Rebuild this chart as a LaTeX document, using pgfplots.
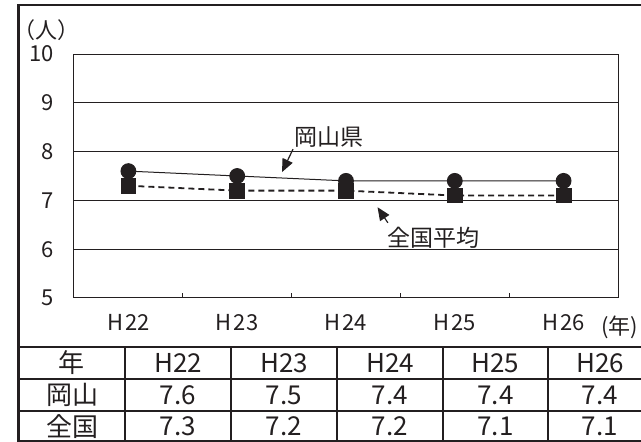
\documentclass[border=0pt]{standalone}
\usepackage{fontspec}
\setmainfont{Noto Sans CJK JP}
\usepackage{pgfplots}
\pgfplotsset{compat=1.18}
\usetikzlibrary{arrows.meta}
\definecolor{ink}{HTML}{231F20}
\begin{document}
\begin{tikzpicture}[x=1pt,y=1pt]
\path[use as bounding box] (0,0) rectangle (641,442);
\begin{axis}[
  at={(74pt,144pt)}, anchor=south west, scale only axis,
  width=544pt, height=244pt,
  xmin=-0.5, xmax=4.5, ymin=5, ymax=10,
  ytick={5,6,7,8,9,10}, ymajorgrids,
  grid style={ink, line width=1pt},
  axis line style={ink, line width=1pt},
  xtick={0,1,2,3,4},
  xticklabels={H\kern2pt 22,H\kern2pt 23,H\kern2pt 24,H\kern2pt 25,H\kern2pt 26},
  major tick length=0pt,
  xtick pos=bottom, ytick pos=left,
  extra x ticks={0.5,1.5,2.5,3.5}, extra x tick labels={},
  extra x tick style={major tick length=5pt, tick align=inside, tick style={ink,line width=0.8pt}, grid=none},
  /pgf/number format/assume math mode=true,
  tick label style={font=\fontsize{22}{26}\selectfont, text=ink},
  xticklabel style={yshift=-13pt},
  yticklabel style={xshift=-17pt},
  clip=false,
]
\addplot[ink, line width=1pt, mark=*, mark size=7.4pt, mark options={solid, fill=ink, draw=ink}]
  coordinates {(0,7.6) (1,7.5) (2,7.4) (3,7.4) (4,7.4)};
\addplot[ink, line width=1.8pt, dash pattern=on 6pt off 4pt, mark=square*, mark size=7.4pt, mark options={solid, fill=ink, draw=ink, line width=0pt}]
  coordinates {(0,7.3) (1,7.2) (2,7.2) (3,7.1) (4,7.1)};
\node[font=\fontsize{23}{27}\selectfont, text=ink] at (axis cs:1.84,8.30) {岡山県};
\draw[ink, line width=1.2pt, -{Triangle[length=13pt,width=11pt]}] (axis cs:1.513,8.05) -- (axis cs:1.412,7.58);
\node[font=\fontsize{23}{27}\selectfont, text=ink] at (axis cs:2.80,6.23) {全国平均};
\draw[ink, line width=1.2pt, -{Triangle[length=13pt,width=11pt]}] (axis cs:2.385,6.54) -- (axis cs:2.29,6.86);
\end{axis}
% axis units
\node[font=\fontsize{22}{26}\selectfont, text=ink] at (46,412) {（人）};
\node[font=\fontsize{22}{26}\selectfont, text=ink, anchor=west, inner sep=0pt] at (601,115) {(年)};
% outer frame
\draw[ink, line width=2.6pt] (18.5,-2) -- (18.5,437) -- (650,437);
\draw[ink, line width=2pt] (18.5,95) -- (650,95);
\draw[ink, line width=2pt] (18.5,0.8) -- (650,0.8);
% table
\draw[ink, line width=1.6pt] (18.5,63) -- (650,63);
\draw[ink, line width=1.6pt] (18.5,31) -- (650,31);
\foreach \cx in {125,231,337,443,548} {\draw[ink, line width=1.6pt] (\cx,0) -- (\cx,95);}
\begin{scope}[every node/.style={font=\fontsize{26}{30}\selectfont, text=ink}]
\node at (72,79) {年};
\node at (178,79) {H22};
\node at (284,79) {H23};
\node at (390,79) {H24};
\node at (495.5,79) {H25};
\node at (600,79) {H26};
\node at (72,47) {岡山};
\node at (178,47) {7.6};
\node at (284,47) {7.5};
\node at (390,47) {7.4};
\node at (495.5,47) {7.4};
\node at (600,47) {7.4};
\node at (72,15.5) {全国};
\node at (178,15.5) {7.3};
\node at (284,15.5) {7.2};
\node at (390,15.5) {7.2};
\node at (495.5,15.5) {7.1};
\node at (600,15.5) {7.1};
\end{scope}
\end{tikzpicture}
\end{document}
